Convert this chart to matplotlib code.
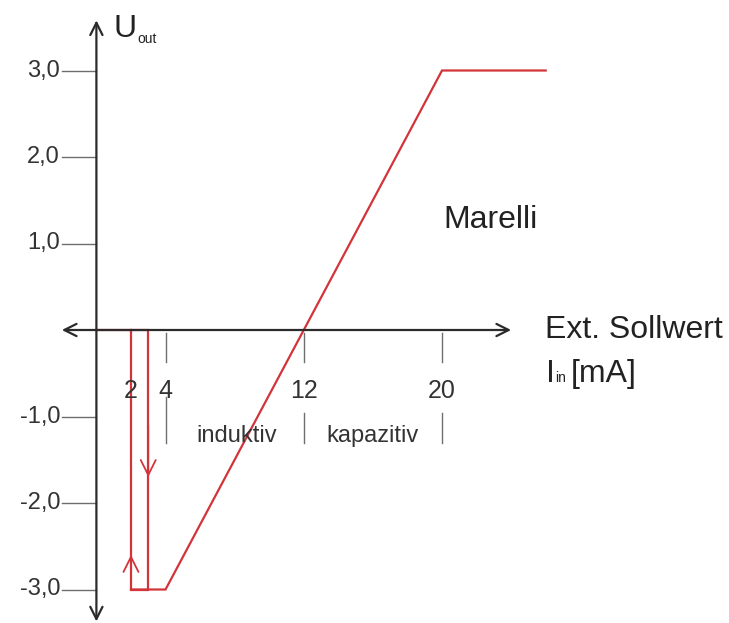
import matplotlib
matplotlib.use("Agg")
import matplotlib.pyplot as plt

# hysteresis loop (switching around 2..3 mA) and the main characteristic
loop_x = [0, 3, 3, 2, 2]
loop_y = [0, 0, -3, -3, 0]
main_x = [2, 4, 12, 20, 26]
main_y = [-3, -3, 0, 3, 3]

y_ticks = [3, 2, 1, -1, -2, -3]
y_labels = ["3,0", "2,0", "1,0", "-1,0", "-2,0", "-3,0"]
x_ticks = [2, 4, 12, 20]
x_labels = ["2", "4", "12", "20"]

FONT = ["Liberation Sans", "DejaVu Sans"]
RED = "#d2343a"
AX = "#2b2b2b"
TICK = "#6e6e6e"

# pixel mapping: x0 at 96.4 px, 17.28 px/mA ; y0 at 330 px, 86.5 px/unit
def px(x):
    return (x - 96.4) / 17.28

def py(y):
    return (330 - y) / 86.5

fig = plt.figure(figsize=(7.29, 6.23), dpi=100)
ax = fig.add_axes([0, 0, 1, 1])
ax.set_xlim(px(0), px(729))
ax.set_ylim(py(623), py(0))
ax.axis("off")

# axes with arrows
ax.annotate("", xy=(24.0, 0), xytext=(-2.0, 0),
            arrowprops=dict(arrowstyle="<->", color=AX, lw=1.6,
                            mutation_scale=22, shrinkA=0, shrinkB=0))
ax.annotate("", xy=(0, 3.58), xytext=(0, -3.37),
            arrowprops=dict(arrowstyle="<->", color=AX, lw=1.6,
                            mutation_scale=22, shrinkA=0, shrinkB=0))

# y ticks
for v, lab in zip(y_ticks, y_labels):
    ax.plot([-2.0, 0], [v, v], color=TICK, lw=1.0)
    ax.text(-2.1, v, lab, ha="right", va="center", fontsize=17,
            family=FONT, color="#333333")

# x ticks (broken around the labels)
for v, lab in zip(x_ticks, x_labels):
    if v != 2:
        ax.plot([v, v], [-0.03, -0.37], color=TICK, lw=1.0)
        top = -0.78 if v == 4 else -0.96
        ax.plot([v, v], [top, -1.31], color=TICK, lw=1.0)
    ax.text(v, -0.7, lab, ha="center", va="center", fontsize=18,
            family=FONT, color="#333333")

# curves
ax.plot(loop_x, loop_y, color=RED, lw=1.6, solid_joinstyle="miter")
ax.plot(main_x, main_y, color=RED, lw=1.6, solid_joinstyle="miter")

# direction arrows on the loop
ax.annotate("", xy=(3, -1.7), xytext=(3, -1.1),
            arrowprops=dict(arrowstyle="->", color=RED, lw=1.3,
                            mutation_scale=27, shrinkA=0, shrinkB=0))
ax.annotate("", xy=(2, -2.6), xytext=(2, -3.0),
            arrowprops=dict(arrowstyle="->", color=RED, lw=1.3,
                            mutation_scale=27, shrinkA=0, shrinkB=0))

# labels
ax.text(px(237), py(436), "induktiv", ha="center", va="center",
        fontsize=17, family=FONT, color="#333333")
ax.text(px(373), py(436), "kapazitiv", ha="center", va="center",
        fontsize=17, family=FONT, color="#333333")
ax.text(px(443), py(228), "Marelli", ha="left", va="baseline",
        fontsize=23, family=FONT, color="#222222")
ax.text(px(545), py(338), "Ext. Sollwert", ha="left", va="baseline",
        fontsize=23, family=FONT, color="#222222")
ax.text(px(546), py(382), "I", ha="left", va="baseline",
        fontsize=23, family=FONT, color="#222222")
ax.text(px(555), py(382), "in", ha="left", va="baseline",
        fontsize=10, family=FONT, color="#222222")
ax.text(px(571), py(382), "[mA]", ha="left", va="baseline",
        fontsize=23, family=FONT, color="#222222")
ax.text(px(114), py(37), "U", ha="left", va="baseline",
        fontsize=23, family=FONT, color="#222222")
ax.text(px(137), py(43), "out", ha="left", va="baseline",
        fontsize=10, family=FONT, color="#222222")

fig.savefig("out.png", dpi=100, facecolor="white")
